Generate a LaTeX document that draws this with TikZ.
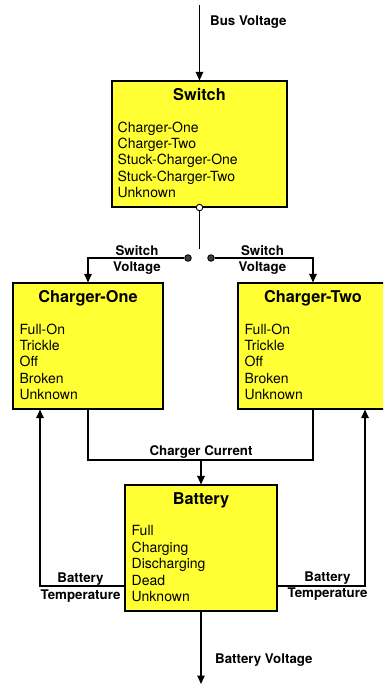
\documentclass[tikz,border=0pt]{standalone}
\usepackage{fontspec}
\setmainfont{TeX Gyre Heros}
\usetikzlibrary{arrows.meta,positioning,calc}
\definecolor{stateyellow}{RGB}{255,255,51}

\begin{document}
\begin{tikzpicture}[
    x=1pt, y=-1pt,
    module/.style={
        rectangle,
        draw=black,
        line width=1.1pt,
        fill=stateyellow,
        minimum height=126pt,
        inner sep=0pt
    },
    modtitle/.style={font=\fontsize{16.3}{19}\selectfont\bfseries, inner sep=0pt, anchor=base},
    states/.style={font=\fontsize{14}{16.4}\selectfont, align=left, inner sep=0pt, anchor=north west},
    signal/.style={font=\fontsize{13.3}{16.5}\selectfont\bfseries, align=center, inner sep=0pt},
    arrow/.style={-{Triangle[length=8.5pt,width=7.5pt]}, line width=1.1pt},
    wire/.style={line width=1.1pt},
    contact/.style={circle, draw=black, line width=0.9pt, inner sep=0pt, minimum size=6.5pt}
]

\useasboundingbox (0,0) rectangle (383,688);
\clip (0,0) rectangle (383,688);

% Switch
\node[module, minimum width=175pt] (switch) at (199.5,144) {};
\node[modtitle] (switchTitle) at ([yshift=-20.5pt]switch.north) {Switch};
\node[states] (switchStates) at ([xshift=6pt,yshift=-41pt]switch.north west) {%
    Charger-One\\Charger-Two\\Stuck-Charger-One\\Stuck-Charger-Two\\Unknown};

% Charger-One
\node[module, minimum width=150pt] (chargerOne) at (88,346) {};
\node[modtitle] (chargerOneTitle) at ([yshift=-20.5pt]chargerOne.north) {Charger-One};
\node[states] (chargerOneStates) at ([xshift=7pt,yshift=-41pt]chargerOne.north west) {%
    Full-On\\Trickle\\Off\\Broken\\Unknown};

% Charger-Two
\node[module, minimum width=150pt] (chargerTwo) at (313,346) {};
\node[modtitle] (chargerTwoTitle) at ([yshift=-20.5pt]chargerTwo.north) {Charger-Two};
\node[states] (chargerTwoStates) at ([xshift=7pt,yshift=-41pt]chargerTwo.north west) {%
    Full-On\\Trickle\\Off\\Broken\\Unknown};

% Battery
\node[module, minimum width=152pt] (battery) at (201,548) {};
\node[modtitle] (batteryTitle) at ([yshift=-20.5pt]battery.north) {Battery};
\node[states] (batteryStates) at ([xshift=7pt,yshift=-41pt]battery.north west) {%
    Full\\Charging\\Discharging\\Dead\\Unknown};

% Free ends
\coordinate (busIn) at (199.5,5);
\coordinate (bladeEnd) at (199.5,249);
\coordinate (currentJoin) at (201,460);
\coordinate (tempOne) at (40,586);
\coordinate (tempTwo) at (365,586);
\coordinate (battOut) at (201,684);

% Switch contacts
\node[contact, fill=white] (pivot) at (switch.south) {};
\node[contact, fill=black!75] (contactOne) at (188,258) {};
\node[contact, fill=black!75] (contactTwo) at (211,258) {};

% Arrows
\draw[arrow] (busIn) -- (switch.north);
\draw[wire] (pivot) -- (bladeEnd);
\draw[arrow] (contactOne) -| (chargerOne.north);
\draw[arrow] (contactTwo) -| (chargerTwo.north);
\draw[wire] (chargerOne.south) |- (currentJoin) -| (chargerTwo.south);
\draw[arrow] (currentJoin) -- (battery.north);
\draw[arrow] (battery.west |- tempOne) -- (tempOne) -- (tempOne |- chargerOne.south);
\draw[arrow] (battery.east |- tempTwo) -- (tempTwo) -- (tempTwo |- chargerTwo.south);
\draw[arrow] (battery) -- (battOut);

% Labels
\node[signal, anchor=base west] (busLabel) at (210,25) {Bus Voltage};
\node[signal] (switchVoltOne) at (137,260) {Switch\\Voltage};
\node[signal] (switchVoltTwo) at (262.5,260) {Switch\\Voltage};
\node[signal, anchor=base] (currentLabel) at (201,455) {Charger Current};
\node[signal] (tempLabelOne) at (80.5,587.5) {Battery\\Temperature};
\node[signal] (tempLabelTwo) at (327.5,586) {Battery\\Temperature};
\node[signal, anchor=base west] (battVoltLabel) at (215,663) {Battery Voltage};

\end{tikzpicture}
\end{document}
